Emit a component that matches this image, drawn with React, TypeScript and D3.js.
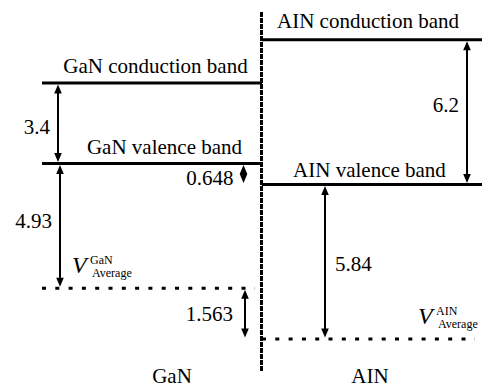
import React, { useRef, useEffect } from 'react';
import * as d3 from 'd3';

// materials across the diagram
const materials = ['GaN', 'AIN'];

// band levels, energy in eV as drawn (GaN valence band = 0)
const levelIds = ['gaCB', 'gaVB', 'gaAvg', 'alCB', 'alVB', 'alAvg'];
const levelMaterial = ['GaN', 'GaN', 'GaN', 'AIN', 'AIN', 'AIN'];
const levelEnergy = [3.4, 0, -5.26, 5.23, -0.886, -7.41];
const levelLabels = ['GaN conduction band', 'GaN valence band', '', 'AIN conduction band', 'AIN valence band', ''];
const levelDotted = [false, false, true, false, false, true];

// energy gaps shown as double arrows
const gapFrom = ['gaCB', 'gaVB', 'gaVB', 'gaAvg', 'alCB', 'alVB'];
const gapTo = ['gaVB', 'gaAvg', 'alVB', 'alAvg', 'alVB', 'alAvg'];
const gapValues = ['3.4', '4.93', '0.648', '1.563', '6.2', '5.84'];
const gapMaterial = ['GaN', 'GaN', 'GaN', 'GaN', 'AIN', 'AIN'];

const energyExtent = [-8.8, 6.4];

const W = 483;
const H = 388;
const FONT = "'Liberation Serif', 'Times New Roman', serif";

export default function App() {
  const ref = useRef<SVGSVGElement | null>(null);

  useEffect(() => {
    const svg = d3.select(ref.current);
    svg.selectAll('*').remove();

    const x = d3.scaleBand<string>().domain(materials).range([42, 482]).padding(0);
    const y = d3.scaleLinear().domain(energyExtent).range([372, 12]);
    const bw = x.bandwidth();
    const yOf = (id: string) => y(levelEnergy[levelIds.indexOf(id)]);

    // divider between the two materials
    const xDiv = (x('AIN') as number) - 0.5;
    svg.append('line')
      .attr('x1', xDiv).attr('x2', xDiv)
      .attr('y1', y(energyExtent[1])).attr('y2', y(energyExtent[0]))
      .attr('stroke', '#000').attr('stroke-width', 3)
      .attr('stroke-dasharray', '5,1');

    // band levels
    levelIds.forEach((id, i) => {
      const x0 = x(levelMaterial[i]) as number;
      const yy = yOf(id);
      const dotted = levelDotted[i];
      svg.append('line')
        .attr('x1', x0)
        .attr('x2', dotted ? x0 + bw - 7 : x0 + bw)
        .attr('y1', yy).attr('y2', yy)
        .attr('stroke', '#000')
        .attr('stroke-width', 3)
        .attr('stroke-dasharray', dotted ? '4,9.3' : null);
    });

    // level labels (offsets relative to band start / level)
    const labelPos: Record<string, [number, number]> = {
      gaCB: [113.5, -10], gaVB: [122.5, -10],
      alCB: [106, -12], alVB: [107.5, -8],
    };
    levelIds.forEach((id, i) => {
      if (!levelLabels[i]) return;
      const [dx, dy] = labelPos[id];
      svg.append('text')
        .attr('x', (x(levelMaterial[i]) as number) + dx)
        .attr('y', yOf(id) + dy)
        .attr('text-anchor', 'middle')
        .attr('font-family', FONT).attr('font-size', 21)
        .text(levelLabels[i]);
    });

    // average valence band labels: V with superscript material and subscript "Average"
    const avgPos: Record<string, number> = { gaAvg: 30, alAvg: 156 };
    levelIds.forEach((id, i) => {
      if (!levelDotted[i]) return;
      const x0 = (x(levelMaterial[i]) as number) + avgPos[id];
      const yy = yOf(id);
      const g = svg.append('g').attr('font-family', FONT);
      g.append('text').attr('x', x0).attr('y', yy - 15)
        .attr('font-size', 24).attr('font-style', 'italic').text('V');
      g.append('text').attr('x', x0 + 18).attr('y', yy - 24)
        .attr('font-size', 12).text(levelMaterial[i]);
      g.append('text').attr('x', x0 + 20).attr('y', yy - 11)
        .attr('font-size', 12).text('Average');
    });

    // double arrows
    const arrowDx = [16, 18, 201.5, 203, 205, 63];
    const valueLayout: [string, number, number][] = [
      ['end', -8, 11], ['end', -8, 2], ['end', -10, 11],
      ['end', -12, 7], ['end', -8, 0], ['start', 10, 9],
    ];
    const head = 9;
    const hw = 3.8;
    gapFrom.forEach((from, i) => {
      const ax = (x(gapMaterial[i]) as number) + arrowDx[i];
      const y1 = yOf(from) + 1.5;
      const y2 = yOf(gapTo[i]) - 1.5;
      svg.append('line')
        .attr('x1', ax).attr('x2', ax)
        .attr('y1', y1 + head - 1).attr('y2', y2 - head + 1)
        .attr('stroke', '#000').attr('stroke-width', 2);
      const tri = (tip: number, dir: number) =>
        `M${ax},${tip}L${ax - hw},${tip + dir * head}L${ax + hw},${tip + dir * head}Z`;
      svg.append('path').attr('d', tri(y1, 1)).attr('fill', '#000');
      svg.append('path').attr('d', tri(y2, -1)).attr('fill', '#000');

      const [anchor, dx, dy] = valueLayout[i];
      svg.append('text')
        .attr('x', ax + dx)
        .attr('y', (y1 + y2) / 2 + dy)
        .attr('text-anchor', anchor)
        .attr('font-family', FONT).attr('font-size', 21)
        .text(gapValues[i]);
    });

    // material names under the diagram
    const nameDx = [20, -2];
    materials.forEach((m, i) => {
      svg.append('text')
        .attr('x', (x(m) as number) + bw / 2 + nameDx[i])
        .attr('y', 383)
        .attr('text-anchor', 'middle')
        .attr('font-family', FONT).attr('font-size', 21)
        .text(m);
    });
  }, []);

  return (
    <svg
      ref={ref}
      width={W}
      height={H}
      style={{ position: 'absolute', left: 0, top: 0, background: '#fff' }}
    />
  );
}
